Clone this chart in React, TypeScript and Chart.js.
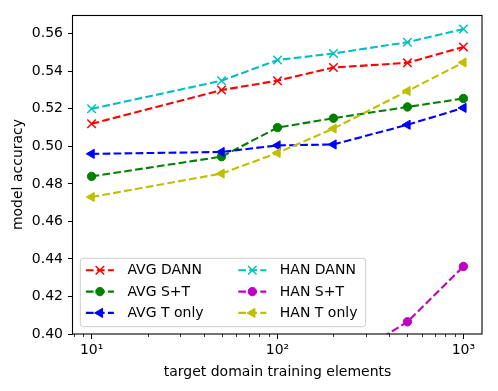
import React, { useEffect, useRef } from 'react';
import { Chart, registerables } from 'chart.js';

Chart.register(...registerables);

// ---- data ----
const X_VALUES = [10, 50, 100, 200, 500, 1000];
const AVG_DANN = [0.512, 0.530, 0.535, 0.542, 0.5445, 0.553];
const AVG_ST = [0.484, 0.4945, 0.510, 0.515, 0.521, 0.5255];
const AVG_TONLY = [0.496, 0.497, 0.5005, 0.501, 0.5115, 0.5205];
const HAN_DANN = [0.520, 0.535, 0.546, 0.5495, 0.5555, 0.5625];
const HAN_ST = [0.33, 0.355, 0.37, 0.382, 0.4065, 0.436];
const HAN_TONLY = [0.473, 0.4855, 0.4965, 0.5095, 0.5295, 0.5447];
const SERIES = [AVG_DANN, AVG_ST, AVG_TONLY, HAN_DANN, HAN_ST, HAN_TONLY];
const SERIES_LABELS = ['AVG DANN', 'AVG S+T', 'AVG T only', 'HAN DANN', 'HAN S+T', 'HAN T only'];
const Y_TICKS = [0.40, 0.42, 0.44, 0.46, 0.48, 0.50, 0.52, 0.54, 0.56];
const X_TICKS = [8, 9, 10, 20, 30, 40, 50, 60, 70, 80, 90, 100, 200, 300, 400, 500, 600, 700, 800, 900, 1000];
const X_MAJOR = [10, 100, 1000];
const X_MAJOR_LABELS = ['10¹', '10²', '10³'];
const X_TITLE = 'target domain training elements';
const Y_TITLE = 'model accuracy';

// ---- styles ----
const COLORS = ['#ff0000', '#008000', '#0000ff', '#00bfbf', '#bf00bf', '#bfbf00'];
const MARKERS = ['crossRot', 'circle', 'triangle', 'crossRot', 'circle', 'triangle'];
const FONT = '"DejaVu Sans", sans-serif';
const FS = 14;

function markerRadius(m: string) {
  if (m === 'crossRot') return 6;
  if (m === 'triangle') return 5.3;
  return 4.2;
}

function drawMarker(ctx: CanvasRenderingContext2D, m: string, x: number, y: number, color: string) {
  ctx.save();
  ctx.setLineDash([]);
  ctx.fillStyle = color;
  ctx.strokeStyle = color;
  const r = markerRadius(m);
  if (m === 'circle') {
    ctx.lineWidth = 1;
    ctx.beginPath();
    ctx.arc(x, y, r, 0, Math.PI * 2);
    ctx.fill();
    ctx.stroke();
  } else if (m === 'crossRot') {
    ctx.lineWidth = 1.5;
    const d = r * Math.SQRT1_2;
    ctx.beginPath();
    ctx.moveTo(x - d, y - d);
    ctx.lineTo(x + d, y + d);
    ctx.moveTo(x - d, y + d);
    ctx.lineTo(x + d, y - d);
    ctx.stroke();
  } else {
    ctx.lineWidth = 1;
    ctx.beginPath();
    ctx.moveTo(x - r, y);
    ctx.lineTo(x + r / 2, y - r * 0.866);
    ctx.lineTo(x + r / 2, y + r * 0.866);
    ctx.closePath();
    ctx.fill();
    ctx.stroke();
  }
  ctx.restore();
}

const decorPlugin = {
  id: 'decor',
  afterDraw(chart: any) {
    const ctx: CanvasRenderingContext2D = chart.ctx;
    const { left, right, top, bottom } = chart.chartArea;
    const xs = chart.scales.x;
    ctx.save();
    // minor ticks
    ctx.strokeStyle = '#000';
    ctx.lineWidth = 0.8;
    ctx.beginPath();
    X_TICKS.forEach((v) => {
      if (X_MAJOR.includes(v)) return;
      const px = xs.getPixelForValue(v);
      if (px < left - 0.5 || px > right + 0.5) return;
      ctx.moveTo(Math.round(px) + 0.5, bottom);
      ctx.lineTo(Math.round(px) + 0.5, bottom + 3);
    });
    ctx.stroke();
    // frame
    ctx.lineWidth = 1.1;
    ctx.strokeStyle = '#000';
    ctx.strokeRect(left - 0.5, top + 0.5, right - left + 0.5, bottom - top - 0.5);

    // legend
    const datasets = chart.data.datasets;
    ctx.font = `${FS}px ${FONT}`;
    const pad = 5.6;
    const handleLen = 28;
    const textGap = 13.5;
    const rowH = 21.3;
    const nRows = 3;
    const boxL = left + 7.3;
    const boxB = bottom - 7.3;
    const boxH = 68.4;
    const boxW = 285.4;
    const boxT = boxB - boxH;
    const boxR = boxL + boxW;
    const c1x = boxL + pad;
    const c2x = boxL + 158;
    // box
    ctx.beginPath();
    const rr = 3;
    ctx.moveTo(boxL + rr, boxT);
    ctx.lineTo(boxR - rr, boxT);
    ctx.quadraticCurveTo(boxR, boxT, boxR, boxT + rr);
    ctx.lineTo(boxR, boxB - rr);
    ctx.quadraticCurveTo(boxR, boxB, boxR - rr, boxB);
    ctx.lineTo(boxL + rr, boxB);
    ctx.quadraticCurveTo(boxL, boxB, boxL, boxB - rr);
    ctx.lineTo(boxL, boxT + rr);
    ctx.quadraticCurveTo(boxL, boxT, boxL + rr, boxT);
    ctx.closePath();
    ctx.fillStyle = 'rgba(255,255,255,0.8)';
    ctx.fill();
    ctx.strokeStyle = '#cccccc';
    ctx.lineWidth = 1;
    ctx.stroke();

    datasets.forEach((d: any, i: number) => {
      const col = i < nRows ? 0 : 1;
      const row = i % nRows;
      const hx = col === 0 ? c1x : c2x;
      const cy = boxT + 12 + row * rowH;
      ctx.save();
      ctx.strokeStyle = d.borderColor;
      ctx.lineWidth = 2.1;
      ctx.setLineDash([7.7, 3.3]);
      ctx.beginPath();
      ctx.moveTo(hx, cy);
      ctx.lineTo(hx + handleLen, cy);
      ctx.stroke();
      ctx.restore();
      drawMarker(ctx, MARKERS[i], hx + handleLen / 2, cy, d.borderColor);
      ctx.fillStyle = '#000';
      ctx.textAlign = 'left';
      ctx.textBaseline = 'middle';
      ctx.font = `${FS}px ${FONT}`;
      ctx.fillText(d.label, hx + handleLen + textGap, cy + 0.5);
    });
    ctx.restore();
  },
};

export default function App() {
  const ref = useRef<HTMLCanvasElement | null>(null);
  useEffect(() => {
    if (!ref.current) return;
    const datasets = SERIES.map((s, i) => ({
      label: SERIES_LABELS[i],
      data: X_VALUES.map((x, j) => ({ x, y: s[j] })),
      borderColor: COLORS[i],
      backgroundColor: COLORS[i],
      borderWidth: 2.1,
      borderDash: [7.7, 3.3],
      pointStyle: MARKERS[i],
      pointRadius: markerRadius(MARKERS[i]),
      pointRotation: MARKERS[i] === 'triangle' ? -90 : 0,
      pointBorderWidth: MARKERS[i] === 'crossRot' ? 1.5 : 1,
      pointBackgroundColor: COLORS[i],
      pointBorderColor: COLORS[i],
      fill: false,
      tension: 0,
      order: 10 - i,
    }));
    const chart = new Chart(ref.current, {
      type: 'line',
      data: { datasets } as any,
      options: {
        animation: false,
        responsive: false,
        devicePixelRatio: 1,
        events: [],
        layout: { padding: { left: 0, right: 16, top: 15, bottom: 0 } },
        plugins: { legend: { display: false }, tooltip: { enabled: false } },
        scales: {
          x: {
            type: 'logarithmic',
            min: Math.pow(10, 0.9),
            max: Math.pow(10, 3.1),
            afterBuildTicks: (s: any) => {
              s.ticks = X_TICKS.map((v) => ({ value: v }));
            },
            afterFit: (s: any) => {
              s.height = 57;
            },
            ticks: {
              autoSkip: false,
              maxRotation: 0,
              minRotation: 0,
              padding: 3,
              color: '#000',
              font: { family: FONT, size: FS },
              callback: (v: any) => {
                const k = X_MAJOR.indexOf(Number(v));
                return k >= 0 ? X_MAJOR_LABELS[k] : '';
              },
            },
            grid: {
              display: true,
              drawOnChartArea: false,
              drawTicks: true,
              tickLength: 5,
              tickWidth: 1,
              tickColor: (c: any) => (c.tick && X_MAJOR.includes(c.tick.value) ? '#000' : 'rgba(0,0,0,0)'),
            },
            border: { display: false },
            title: {
              display: true,
              text: X_TITLE,
              color: '#000',
              font: { family: FONT, size: FS },
              padding: { top: 0, bottom: 10 },
            },
          },
          y: {
            type: 'linear',
            min: 0.4,
            max: 0.57,
            afterBuildTicks: (s: any) => {
              s.ticks = Y_TICKS.map((v) => ({ value: v }));
            },
            afterFit: (s: any) => {
              s.width = 73;
            },
            ticks: {
              padding: 5,
              color: '#000',
              font: { family: FONT, size: FS },
              callback: (v: any) => Number(v).toFixed(2),
            },
            grid: {
              display: true,
              drawOnChartArea: false,
              drawTicks: true,
              tickLength: 5,
              tickWidth: 1,
              tickColor: '#000',
            },
            border: { display: false },
            title: {
              display: true,
              text: Y_TITLE,
              color: '#000',
              font: { family: FONT, size: FS },
              padding: { top: 10, bottom: 0 },
            },
          },
        },
      } as any,
      plugins: [decorPlugin],
    });
    return () => chart.destroy();
  }, []);
  return (
    <div style={{ position: 'fixed', left: 0, top: 0, width: 498, height: 391, background: '#fff' }}>
      <canvas ref={ref} width={498} height={391} style={{ width: 498, height: 391, display: 'block' }} />
    </div>
  );
}
